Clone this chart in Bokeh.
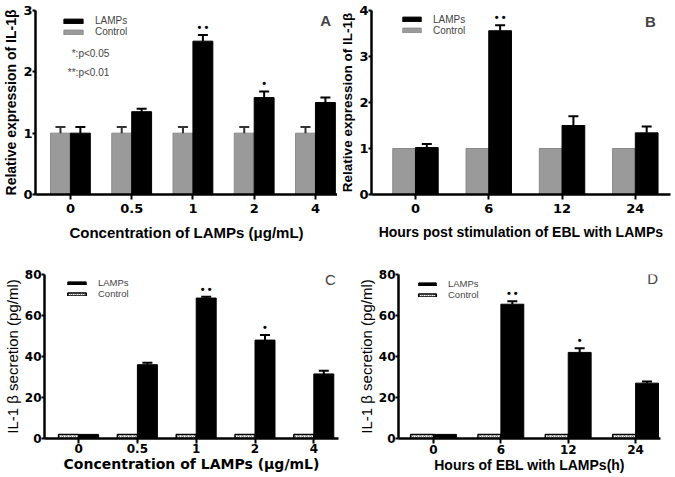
from bokeh.plotting import figure
from bokeh.models import (ColumnDataSource, Whisker, TeeHead, FixedTicker, Legend,
                          LegendItem, Label, Range1d)
from bokeh.layouts import row, column
from bokeh.embed import file_html
from bokeh.resources import INLINE
from bokeh.core.properties import value

# ---------------- data ----------------
conc_labels = ["0", "0.5", "1", "2", "4"]
hour_labels = ["0", "6", "12", "24"]

# Panel A: relative expression of IL-1beta vs concentration
A_lamps = [1.0, 1.35, 2.5, 1.58, 1.5]
A_lamps_err = [0.1, 0.05, 0.1, 0.1, 0.08]
A_control = [1.0, 1.0, 1.0, 1.0, 1.0]
A_control_err = [0.1, 0.1, 0.1, 0.1, 0.1]
A_stars = ["", "", "• •", "•", ""]

# Panel B: relative expression of IL-1beta vs hours
B_lamps = [1.02, 3.56, 1.5, 1.34]
B_lamps_err = [0.08, 0.12, 0.2, 0.14]
B_control = [1.0, 1.0, 1.0, 1.0]
B_control_err = [0, 0, 0, 0]
B_stars = ["", "• •", "", ""]

# Panel C: IL-1beta secretion vs concentration
C_lamps = [2.0, 36.0, 68.5, 48.0, 31.5]
C_lamps_err = [0, 1.0, 0.6, 2.5, 1.5]
C_control = [2.0, 2.0, 2.0, 2.0, 2.0]
C_control_err = [0, 0, 0, 0, 0]
C_stars = ["", "", "• •", "•", ""]

# Panel D: IL-1beta secretion vs hours
D_lamps = [2.0, 65.5, 42.0, 27.0]
D_lamps_err = [0, 1.5, 2.0, 0.8]
D_control = [2.0, 2.0, 2.0, 2.0]
D_control_err = [0, 0, 0, 0]
D_stars = ["", "• •", "•", ""]

ARIAL = "Liberation Sans"
DEJAVU = "DejaVu Sans"


def panel(cats, lamps, lamps_err, ctrl, ctrl_err, stars, *, width, height,
          borders, xr, ymax, yticks, bar_w, hatched, xlabel, ylabel,
          tick_font, tick_size, xlab_font, xlab_size, ylab_bold, ylab_size,
          letter, letter_pos, letter_bold, leg_pos, leg_glyph, leg_font,
          xlab_standoff, tick_standoff):
    bl, br, bt, bb = borders
    p = figure(width=width, height=height, x_range=Range1d(*xr),
               y_range=Range1d(0, ymax), output_backend="svg",
               toolbar_location=None, min_border_left=bl, min_border_right=br,
               min_border_top=bt, min_border_bottom=bb)
    p.outline_line_color = None
    p.grid.visible = False
    p.background_fill_color = "white"
    p.border_fill_color = "white"

    idx = list(range(len(cats)))
    xc = [i - bar_w / 2 for i in idx]
    xl = [i + bar_w / 2 for i in idx]
    src_c = ColumnDataSource(dict(x=xc, top=ctrl))
    src_l = ColumnDataSource(dict(x=xl, top=lamps))
    if hatched:
        rc = p.vbar(x="x", top="top", width=bar_w, source=src_c,
                    fill_color="white", line_color="black", line_width=1.5,
                    hatch_pattern="o", hatch_scale=4, hatch_color="#888888",
                    hatch_weight=1)
    else:
        rc = p.vbar(x="x", top="top", width=bar_w, source=src_c,
                    fill_color="#9a9a9a", line_color="#8a8a8a", line_width=1)
    rl = p.vbar(x="x", top="top", width=bar_w, source=src_l,
                fill_color="black", line_color="black", line_width=1)

    for xs, tops, errs, col in ((xc, ctrl, ctrl_err, "#333333"),
                                (xl, lamps, lamps_err, "black")):
        keep = [k for k in idx if errs[k] > 0]
        if not keep:
            continue
        ws = ColumnDataSource(dict(base=[xs[k] for k in keep],
                                   lower=[tops[k] for k in keep],
                                   upper=[tops[k] + errs[k] for k in keep]))
        w = Whisker(source=ws, base="base", lower="lower", upper="upper",
                    line_width=2, line_color=col, level="glyph",
                    upper_head=TeeHead(size=10, line_width=2, line_color=col),
                    lower_head=None)
        p.add_layout(w)

    keep = [k for k in idx if stars[k]]
    ss = ColumnDataSource(dict(x=[xl[k] for k in keep],
                               y=[lamps[k] + lamps_err[k] for k in keep],
                               t=[stars[k] for k in keep]))
    p.text(x="x", y="y", text="t", source=ss, text_align="center",
           text_baseline="middle", y_offset=-8, text_font=value(ARIAL),
           text_font_size="11px", text_font_style="bold", text_color="black")

    # axes
    p.xaxis.ticker = FixedTicker(ticks=idx)
    p.xaxis.major_label_overrides = {i: c for i, c in enumerate(cats)}
    p.yaxis.ticker = FixedTicker(ticks=yticks)
    p.axis.axis_line_width = 2.5
    p.axis.axis_line_color = "black"
    p.axis.major_tick_line_width = 2
    p.axis.major_tick_line_color = "black"
    p.axis.minor_tick_line_color = None
    p.axis.major_tick_in = 0
    p.xaxis.major_tick_out = 5
    p.yaxis.major_tick_out = 3
    p.axis.major_label_text_font = tick_font
    p.axis.major_label_text_font_size = tick_size
    p.axis.major_label_text_font_style = "bold"
    p.axis.major_label_text_color = "black"
    p.xaxis.major_label_standoff = tick_standoff
    p.yaxis.major_label_standoff = 0
    p.xaxis.axis_label = xlabel
    p.xaxis.axis_label_text_font = xlab_font
    p.xaxis.axis_label_text_font_size = xlab_size
    p.xaxis.axis_label_text_font_style = "bold"
    p.xaxis.axis_label_standoff = xlab_standoff
    p.yaxis.axis_label = ylabel
    p.yaxis.axis_label_text_font = ARIAL
    p.yaxis.axis_label_text_font_size = ylab_size
    p.yaxis.axis_label_text_font_style = "bold" if ylab_bold else "normal"
    p.yaxis.axis_label_standoff = 1
    p.axis.axis_label_text_color = "black"

    # panel letter (data coordinates)
    p.add_layout(Label(x=letter_pos[0], y=letter_pos[1], text=letter,
                       text_align="center", text_baseline="middle",
                       text_font=ARIAL, text_font_size="15px",
                       text_font_style="bold" if letter_bold else "normal"))

    leg = Legend(items=[LegendItem(label="LAMPs", renderers=[rl]),
                        LegendItem(label="Control", renderers=[rc])],
                 location=leg_pos, glyph_width=leg_glyph[0],
                 glyph_height=leg_glyph[1], label_height=leg_glyph[2],
                 label_text_font=ARIAL, label_text_font_size=leg_font,
                 spacing=0, padding=0, margin=0, label_standoff=10,
                 border_line_color=None, background_fill_alpha=0)
    p.add_layout(leg)
    return p


pA = panel(conc_labels, A_lamps, A_lamps_err, A_control, A_control_err, A_stars,
           width=337, height=250, borders=(34, 0, 10, 56), xr=(-0.57, 4.36),
           ymax=3, yticks=[0, 1, 2, 3], bar_w=0.325, hatched=False,
           xlabel="Concentration of LAMPs (μg/mL)",
           ylabel="Relative expression of IL-1β",
           tick_font=DEJAVU, tick_size="13px", xlab_font=ARIAL, xlab_size="15px",
           ylab_bold=True, ylab_size="14px", letter="A",
           letter_pos=(4.165, 2.837), letter_bold=True, leg_pos=(26, 157),
           leg_glyph=(24, 6, 10), leg_font="10px", xlab_standoff=8,
           tick_standoff=4)
pA.add_layout(Label(x=0.634, y=2.291, text="*:p<0.05", text_align="right",
                    text_baseline="middle", text_font=ARIAL,
                    text_font_size="10px"))
pA.add_layout(Label(x=0.634, y=1.997, text="**:p<0.01", text_align="right",
                    text_baseline="middle", text_font=ARIAL,
                    text_font_size="10px"))

pB = panel(hour_labels, B_lamps, B_lamps_err, B_control, B_control_err, B_stars,
           width=338, height=250, borders=(34, 5, 9, 56), xr=(-0.6, 3.48),
           ymax=4, yticks=[0, 1, 2, 3, 4], bar_w=0.31, hatched=False,
           xlabel="Hours post stimulation of EBL with LAMPs",
           ylabel="Relative expression of IL-1β",
           tick_font=DEJAVU, tick_size="13px", xlab_font=ARIAL, xlab_size="14px",
           ylab_bold=True, ylab_size="13.5px", letter="B",
           letter_pos=(3.207, 3.77), letter_bold=True, leg_pos=(29, 158.5),
           leg_glyph=(23, 6, 10), leg_font="10px", xlab_standoff=8,
           tick_standoff=4)

pC = panel(conc_labels, C_lamps, C_lamps_err, C_control, C_control_err, C_stars,
           width=354, height=227, borders=(43, 16, 23, 39), xr=(-0.58, 4.42),
           ymax=80, yticks=[0, 20, 40, 60, 80], bar_w=0.34, hatched=True,
           xlabel="Concentration of LAMPs (μg/mL)",
           ylabel="IL-1 β secretion (pg/ml)",
           tick_font=DEJAVU, tick_size="12px", xlab_font=DEJAVU, xlab_size="14px",
           ylab_bold=False, ylab_size="15px", letter="C",
           letter_pos=(4.284, 77.7), letter_bold=False, leg_pos=(21, 139),
           leg_glyph=(23, 4, 10), leg_font="9.5px", xlab_standoff=0,
           tick_standoff=0)

pD = panel(hour_labels, D_lamps, D_lamps_err, D_control, D_control_err, D_stars,
           width=321, height=227, borders=(43, 15, 24, 39), xr=(-0.52, 3.37),
           ymax=80, yticks=[0, 20, 40, 60, 80], bar_w=0.34, hatched=True,
           xlabel="Hours of EBL with LAMPs(h)",
           ylabel="IL-1 β secretion (pg/ml)",
           tick_font=DEJAVU, tick_size="12px", xlab_font=ARIAL, xlab_size="14px",
           ylab_bold=False, ylab_size="15px", letter="D",
           letter_pos=(3.252, 77.9), letter_bold=False, leg_pos=(18, 138),
           leg_glyph=(22, 4, 10), leg_font="9.5px", xlab_standoff=0,
           tick_standoff=1)

layout = column(row(pA, pB), row(pC, pD))
open("out.html", "w").write(file_html(layout, INLINE))
